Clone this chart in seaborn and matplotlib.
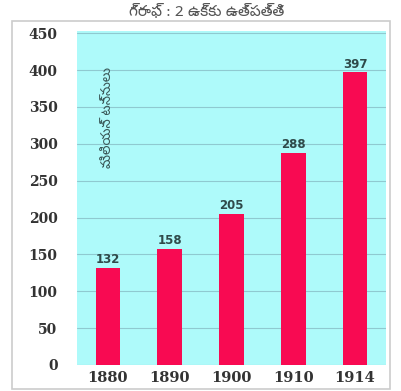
import matplotlib
matplotlib.use("Agg")
import matplotlib.pyplot as plt
import seaborn as sns
import pandas as pd
from matplotlib.patches import Rectangle
from matplotlib import font_manager

# Data
years = ["1880", "1890", "1900", "1910", "1914"]
values = [132, 158, 205, 288, 397]
y_ticks = [0, 50, 100, 150, 200, 250, 300, 350, 400, 450]
title_text = "గ్రాఫ్ : 2 ఉక్కు ఉత్పత్తి"
unit_text = "మిలియన్ టన్నులు"

# pick an installed family with Telugu glyphs
installed = {f.name for f in font_manager.fontManager.ttflist}
telugu_fams = [n for n in ["Noto Sans Telugu", "Anek Telugu", "Gautami",
                           "Akaya Telivigala", "Baloo Tammudu 2"] if n in installed]
te_family = telugu_fams[:1] + ["DejaVu Sans"]

df = pd.DataFrame({"year": years, "value": values})

sns.set_style("white")
fig = plt.figure(figsize=(4.01, 3.91), dpi=100)
ax = fig.add_axes([77 / 401, 26 / 391, 309 / 401, 334 / 391])

sns.barplot(data=df, x="year", y="value", color="#f80a52", width=0.4,
            saturation=1, linewidth=0, ax=ax, zorder=3)

ax.set_facecolor("#aefafa")
ax.set_ylim(0, 453)
ax.set_xlim(-0.5, 4.5)
ax.set_yticks(y_ticks)
ax.yaxis.grid(True, color="#8fc9d0", linewidth=0.8, zorder=0)
ax.set_axisbelow(True)
for s in ax.spines.values():
    s.set_visible(False)
ax.tick_params(axis="both", length=0)
ax.tick_params(axis="y", pad=14)
ax.tick_params(axis="x", pad=4)
for lbl in ax.get_yticklabels():
    lbl.set_fontfamily("DejaVu Serif")
    lbl.set_fontweight("bold")
    lbl.set_fontsize(10)
    lbl.set_color("#333333")
for lbl in ax.get_xticklabels():
    lbl.set_fontfamily("DejaVu Serif")
    lbl.set_fontweight("bold")
    lbl.set_fontsize(10.5)
    lbl.set_color("#333333")
ax.set_xlabel("")
ax.set_ylabel("")

# value labels on top of each bar
for i, v in enumerate(values):
    ax.annotate(str(v), (i, v), xytext=(0, 1), textcoords="offset points",
                ha="center", va="bottom", fontsize=8.5, fontweight="bold",
                family="DejaVu Sans", color="#2f4a4a", zorder=4)

# unit label inside the plot area
ax.text(0.1, 0.74, unit_text, transform=ax.transAxes, rotation=90,
        ha="center", va="center", fontsize=9.5, color="#3a5858",
        family=te_family)

# outer frame and title
fig.patches.append(Rectangle((12 / 401, 2 / 391), 378 / 401, 368 / 391,
                             transform=fig.transFigure, fill=False,
                             edgecolor="#cccccc", linewidth=1.2, zorder=0))
fig.text(207 / 401, 1 - 12 / 391, title_text, ha="center", va="center",
         fontsize=11, color="#555555", family=te_family)

fig.savefig("out.png", dpi=100)
